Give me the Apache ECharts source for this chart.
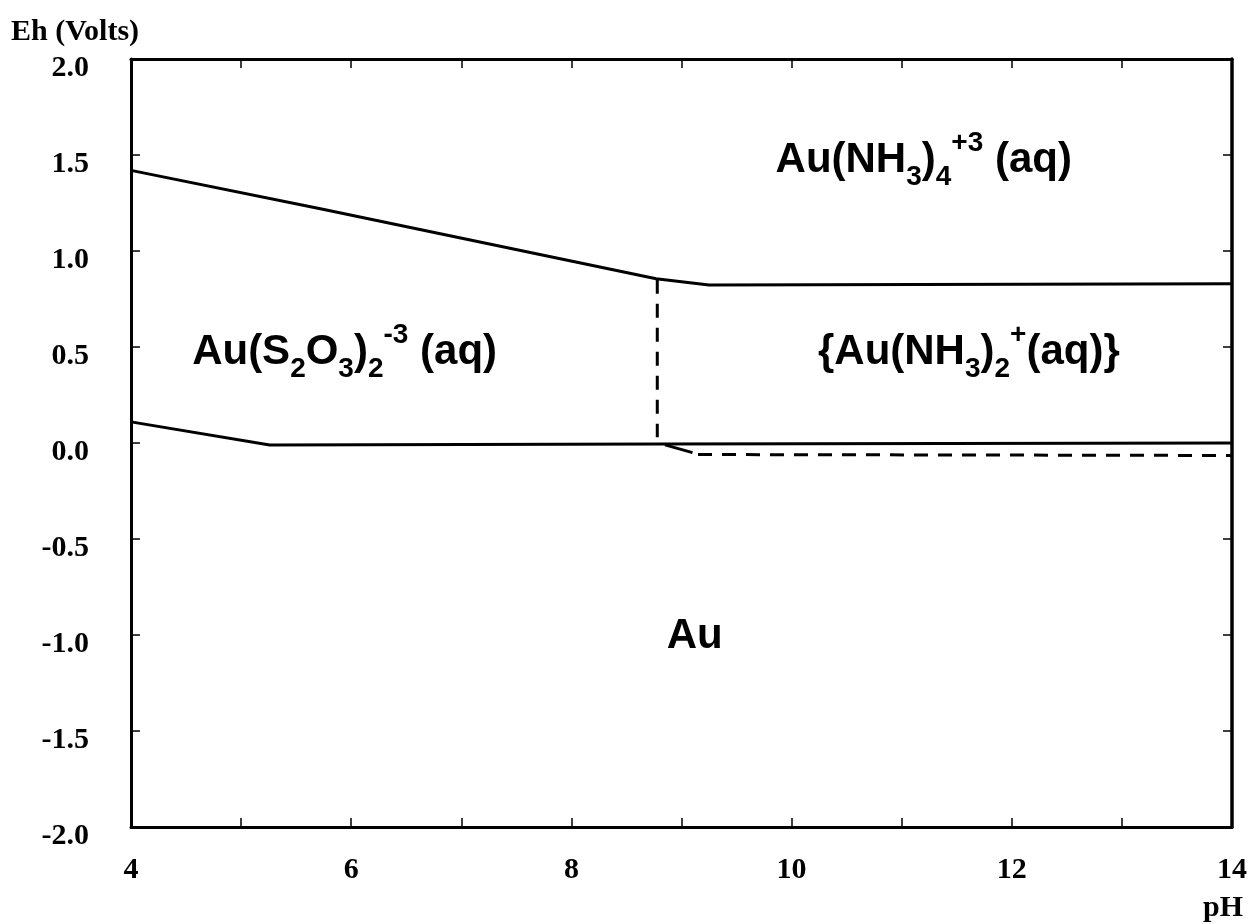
<!DOCTYPE html>
<html>
<head>
<meta charset="utf-8">
<script src="https://cdn.jsdelivr.net/npm/echarts@6/dist/echarts.min.js"></script>
<style>
  html, body { margin: 0; padding: 0; background: #fff; }
  #main { width: 1250px; height: 924px; }
</style>
</head>
<body>
<div id="main"></div>
<script>
// boundary lines (pH, Eh)
var upperPH = [4, 5.72, 8.77, 9.25, 14];
var upperEh = [1.42, 1.22, 0.855, 0.823, 0.83];

var lowerPH = [4, 5.26, 8.8, 14];
var lowerEh = [0.11, -0.01, -0.005, 0.0];

var stubPH = [8.85, 9.1];
var stubEh = [-0.01, -0.05];

var vDashPH = [8.78, 8.78];
var vDashEh = [0.85, 0.03];

var hDashPH = [9.15, 14];
var hDashEh = [-0.06, -0.065];

// field labels
var regionPH = [11.2, 5.94, 11.61, 9.12];
var regionEh = [1.47, 0.474, 0.47, -1.01];
var regionText = [
  '{m|Au(NH}{s|3}{m|)}{s|4}{p|+3}{m| (aq)}',
  '{m|Au(S}{s|2}{m|O}{s|3}{m|)}{s|2}{p|-3}{m| (aq)}',
  '{m|{Au(NH}{s|3}{m|)}{s|2}{p|+}{m|(aq)}}',
  '{m|Au}'
];

function pairs(xs, ys) {
  var out = [];
  for (var i = 0; i < xs.length; i++) {
    out.push([xs[i], ys[i]]);
  }
  return out;
}

function boundary(xs, ys, dashed) {
  return {
    type: 'line',
    data: pairs(xs, ys),
    symbol: 'none',
    silent: true,
    xAxisIndex: 0,
    yAxisIndex: 0,
    lineStyle: {
      color: '#000',
      width: 3,
      type: dashed ? [14, 10] : 'solid'
    }
  };
}

var serif = '"Liberation Serif", "Times New Roman", serif';
var sans = '"Liberation Sans", Arial, sans-serif';

var richStyles = {
  m: { fontFamily: sans, fontWeight: 'bold', fontSize: 42, lineHeight: 62, fill: '#000' },
  s: { fontFamily: sans, fontWeight: 'bold', fontSize: 28, lineHeight: 29, verticalAlign: 'bottom', fill: '#000' },
  p: { fontFamily: sans, fontWeight: 'bold', fontSize: 28, lineHeight: 32, verticalAlign: 'top', fill: '#000' }
};

var option = {
  backgroundColor: '#fff',
  animation: false,
  title: [
    {
      text: 'Eh (Volts)',
      left: 6,
      top: 12,
      textStyle: { fontFamily: serif, fontWeight: 'bold', fontSize: 30, color: '#000' }
    },
    {
      text: 'pH',
      right: 2,
      top: 888,
      textStyle: { fontFamily: serif, fontWeight: 'bold', fontSize: 30, color: '#000' }
    }
  ],
  grid: {
    left: 131,
    right: 17,
    top: 59,
    bottom: 97
  },
  xAxis: [
    {
      type: 'value',
      position: 'bottom',
      min: 4,
      max: 14,
      interval: 1,
      axisLine: { onZero: false, lineStyle: { color: '#000', width: 3 } },
      axisTick: { inside: true, length: 9, lineStyle: { color: '#000', width: 1.5 } },
      axisLabel: {
        margin: 28,
        color: '#000',
        fontFamily: serif,
        fontWeight: 'bold',
        fontSize: 30,
        formatter: function (v) { return v % 2 === 0 ? String(v) : ''; }
      },
      splitLine: { show: false }
    },
    {
      type: 'value',
      position: 'top',
      min: 4,
      max: 14,
      interval: 1,
      axisLine: { onZero: false, lineStyle: { color: '#000', width: 3 } },
      axisTick: { inside: true, length: 9, lineStyle: { color: '#000', width: 1.5 } },
      axisLabel: { show: false },
      splitLine: { show: false }
    }
  ],
  yAxis: [
    {
      type: 'value',
      position: 'left',
      min: -2,
      max: 2,
      interval: 0.5,
      axisLine: { onZero: false, lineStyle: { color: '#000', width: 3 } },
      axisTick: { inside: true, length: 9, lineStyle: { color: '#000', width: 1.5 } },
      axisLabel: {
        margin: 42,
        verticalAlign: 'top',
        lineHeight: 18,
        color: '#000',
        fontFamily: serif,
        fontWeight: 'bold',
        fontSize: 30,
        formatter: function (v) { return v.toFixed(1); }
      },
      splitLine: { show: false }
    },
    {
      type: 'value',
      position: 'right',
      min: -2,
      max: 2,
      interval: 0.5,
      axisLine: { onZero: false, lineStyle: { color: '#000', width: 3.5 } },
      axisTick: { inside: true, length: 9, lineStyle: { color: '#000', width: 1.5 } },
      axisLabel: { show: false },
      splitLine: { show: false }
    }
  ],
  series: [
    boundary(upperPH, upperEh, false),
    boundary(lowerPH, lowerEh, false),
    boundary(stubPH, stubEh, false),
    boundary(vDashPH, vDashEh, true),
    boundary(hDashPH, hDashEh, true)
  ]
};

var chartDom = document.getElementById('main');
var myChart = echarts.init(chartDom);
option && myChart.setOption(option);

// place the field names through the grid's own scales
var texts = [];
for (var k = 0; k < regionText.length; k++) {
  var pt = myChart.convertToPixel({ gridIndex: 0 }, [regionPH[k], regionEh[k]]);
  texts.push({
    type: 'text',
    x: pt[0],
    y: pt[1],
    silent: true,
    style: {
      text: regionText[k],
      fill: '#000',
      align: 'center',
      verticalAlign: 'middle',
      font: 'bold 42px ' + sans,
      rich: richStyles
    }
  });
}
myChart.setOption({ graphic: texts });
</script>
</body>
</html>
